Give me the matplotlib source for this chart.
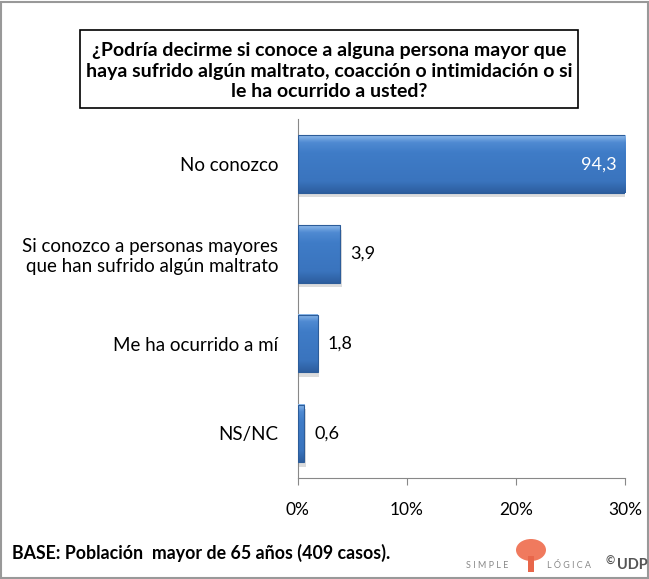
import numpy as np
import matplotlib.pyplot as plt
from matplotlib.patches import Rectangle, Ellipse
from matplotlib.colors import LinearSegmentedColormap

plt.rcParams['font.family'] = ['Lato', 'DejaVu Sans']

# Data
categories = ["No conozco",
              "Si conozco a personas mayores\nque han sufrido algún maltrato",
              "Me ha ocurrido a mí",
              "NS/NC"]
values = [94.3, 3.9, 1.8, 0.6]
value_labels = ["94,3", "3,9", "1,8", "0,6"]
ticks = [0, 10, 20, 30]
tick_labels = ["0%", "10%", "20%", "30%"]

XMAX = 30

fig = plt.figure(figsize=(6.49, 5.79), dpi=100)
ax = fig.add_axes([0.459, 0.174, 0.504, 0.620])

y = np.arange(len(categories))
bars = ax.barh(y, values, height=0.64, color="#3C79C6", lw=0, zorder=3)

# vertical gradient inside each bar (light top edge, darker bottom) + soft shadow
grad = np.linspace(0, 1, 64).reshape(-1, 1)
cmap = LinearSegmentedColormap.from_list(
    "bar", [(0, "#8DB9EA"), (0.12, "#4F8AD2"), (0.3, "#3F7CC7"),
            (0.8, "#3A74BE"), (1, "#2D5E9F")])
for b in bars:
    x0, y0, w, h = b.get_x(), b.get_y(), b.get_width(), b.get_height()
    w = min(w, XMAX)
    ax.add_patch(Rectangle((x0 + 0.12, y0 + 0.05), w, h, color="#bbbbbb",
                           alpha=0.5, lw=0, zorder=2))
    ax.imshow(grad, cmap=cmap, aspect="auto", zorder=3.5, interpolation="bilinear",
              extent=(x0, x0 + w, y0 + h, y0), origin="upper")
    ax.add_patch(Rectangle((x0, y0), w, h, fill=False, edgecolor="#2C5C99",
                           lw=0.8, zorder=3.6))

ax.set_xlim(0, XMAX)
ax.set_ylim(len(categories) - 0.5, -0.5)

for i, (v, lab) in enumerate(zip(values, value_labels)):
    if v > XMAX:
        ax.text(XMAX - 0.8, i, lab, ha="right", va="center", color="white",
                fontsize=13, zorder=5)
    else:
        ax.text(v + 0.9, i, lab, ha="left", va="center", color="black",
                fontsize=13, zorder=5)

ax.set_yticks(y)
ax.set_yticklabels(categories, fontsize=13.5)
ax.tick_params(axis="y", length=0, pad=14)
ax.set_xticks(ticks)
ax.set_xticklabels(tick_labels, fontsize=12.5)
ax.tick_params(axis="x", direction="out", length=5, color="#888888", pad=12)

for s in ["top", "right"]:
    ax.spines[s].set_visible(False)
ax.spines["left"].set_color("#888888")
ax.spines["bottom"].set_color("#888888")

# Title box
fig.patches.append(Rectangle((80 / 649, 1 - 108 / 579), 498 / 649, 78 / 579,
                             transform=fig.transFigure, fill=False,
                             edgecolor="black", linewidth=1.2))
fig.text(329 / 649, 1 - 71 / 579,
         "¿Podría decirme si conoce a alguna persona mayor que\n"
         "haya sufrido algún maltrato, coacción o intimidación o si\n"
         "le ha ocurrido a usted?",
         ha="center", va="center", fontsize=14, fontweight="bold",
         linespacing=1.27)

# Footer
fig.text(12 / 649, 1 - 553 / 579, "BASE: Población  mayor de 65 años (409 casos).",
         ha="left", va="center", fontsize=12.8, fontweight="bold")
fig.text(466 / 649, 1 - 565 / 579, "S I M P L E", ha="left", va="center",
         fontsize=6.5, color="#888888")
fig.text(547 / 649, 1 - 565 / 579, "L Ó G I C A", ha="left", va="center",
         fontsize=6.5, color="#888888")
fig.patches.append(Ellipse((531 / 649, 1 - 550 / 579), 30 / 649, 22 / 579,
                           transform=fig.transFigure, color="#F07A5E", lw=0))
fig.patches.append(Rectangle((528 / 649, 1 - 572 / 579), 6 / 649, 16 / 579,
                             transform=fig.transFigure, color="#E8664A", lw=0))
fig.text(606 / 649, 1 - 561 / 579, "©", ha="left", va="center",
         fontsize=8, fontweight="bold", color="#555555")
fig.text(617 / 649, 1 - 565 / 579, "UDP", ha="left", va="center",
         fontsize=10.5, fontweight="bold", color="#555555")

# outer border
fig.patches.append(Rectangle((0.002, 0.002), 0.996, 0.994, transform=fig.transFigure,
                             fill=False, edgecolor="#999999", linewidth=1.5))

fig.savefig("out.png", dpi=100)
